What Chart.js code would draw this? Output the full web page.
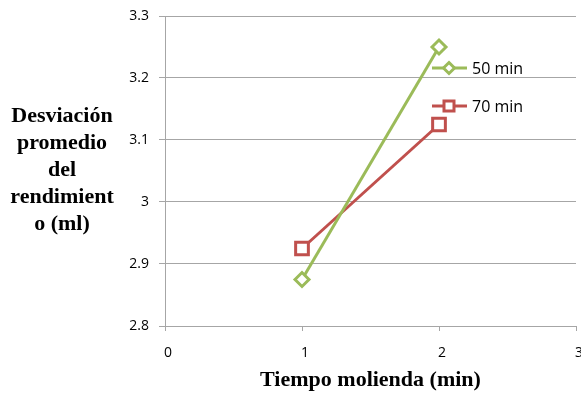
<!DOCTYPE html>
<html>
<head>
<meta charset="utf-8">
<script src="https://cdn.jsdelivr.net/npm/chart.js@4/dist/chart.umd.min.js"></script>
<style>
  html, body { margin: 0; padding: 0; background: #fff; }
  #wrap { width: 581px; height: 398px; position: relative; }
</style>
</head>
<body>
<div id="wrap"><canvas id="c" width="581" height="398"></canvas></div>
<script>
// Grinding time (min) on x, mean yield deviation (ml) on y
const tiempos = [1, 2];
const serie50 = [2.875, 3.25];
const serie70 = [2.925, 3.125];
const nombres = ['50 min', '70 min'];
const ticksX = [0, 1, 2, 3];
const ticksY = [2.8, 2.9, 3.0, 3.1, 3.2, 3.3];
const tituloX = 'Tiempo molienda (min)';
const tituloY = ['Desviación', 'promedio', 'del', 'rendimient', 'o (ml)'];

const VERDE = '#9BBB59';
const ROJO = '#C0504D';
const GRIS = '#A6A6A6';
const SANS = '"Open Sans", "Liberation Sans", sans-serif';

const pts = (ys) => tiempos.map((x, i) => ({ x: x, y: ys[i] }));

// Axis titles drawn horizontally beside/below the plot, plus an in-plot legend
const extras = {
  id: 'extras',
  afterDraw(chart) {
    const ctx = chart.ctx;
    const area = chart.chartArea;
    ctx.save();
    ctx.fillStyle = '#000';
    ctx.font = 'bold 22px "Liberation Serif", "Times New Roman", serif';
    ctx.textAlign = 'center';
    ctx.textBaseline = 'middle';
    ctx.fillText(tituloX, (area.left + area.right) / 2, 380);
    const lineH = 27;
    const y0 = 116;
    tituloY.forEach((t, i) => ctx.fillText(t, 62, y0 + i * lineH));

    // legend
    const items = [
      { label: nombres[0], color: VERDE, style: 'diamond', y: 68 },
      { label: nombres[1], color: ROJO, style: 'square', y: 106 }
    ];
    items.forEach(it => {
      ctx.strokeStyle = it.color;
      ctx.lineWidth = 3;
      ctx.beginPath();
      ctx.moveTo(432, it.y);
      ctx.lineTo(467, it.y);
      ctx.stroke();
      ctx.fillStyle = '#fff';
      ctx.beginPath();
      const cx = 449;
      if (it.style === 'diamond') {
        const r = 5.5;
        ctx.moveTo(cx, it.y - r);
        ctx.lineTo(cx + r, it.y);
        ctx.lineTo(cx, it.y + r);
        ctx.lineTo(cx - r, it.y);
        ctx.closePath();
      } else {
        const s = 5;
        ctx.rect(cx - s, it.y - s, 2 * s, 2 * s);
      }
      ctx.fill();
      ctx.stroke();
      ctx.fillStyle = '#000';
      ctx.font = '16px ' + SANS;
      ctx.textAlign = 'left';
      ctx.fillText(it.label, 472, it.y + 1);
    });
    ctx.restore();
  }
};

new Chart(document.getElementById('c'), {
  type: 'line',
  data: {
    datasets: [
      {
        label: nombres[0],
        data: pts(serie50),
        borderColor: VERDE,
        backgroundColor: '#fff',
        borderWidth: 3,
        pointStyle: 'rectRot',
        pointRadius: 7,
        pointBorderWidth: 3,
        pointBackgroundColor: '#fff',
        pointBorderColor: VERDE
      },
      {
        label: nombres[1],
        data: pts(serie70),
        borderColor: ROJO,
        backgroundColor: '#fff',
        borderWidth: 3,
        pointStyle: 'rect',
        pointRadius: 9,
        pointBorderWidth: 3,
        pointBackgroundColor: '#fff',
        pointBorderColor: ROJO
      }
    ]
  },
  options: {
    responsive: false,
    animation: false,
    layout: { autoPadding: false, padding: { top: 16, right: 5, left: 0, bottom: 0 } },
    plugins: { legend: { display: false }, tooltip: { enabled: false } },
    scales: {
      x: {
        type: 'linear',
        min: 0,
        max: 3,
        afterBuildTicks: (s) => { s.ticks = ticksX.map(v => ({ value: v })); },
        afterFit: (s) => { s.height = 72; s.paddingRight = 0; s.paddingLeft = 0; },
        border: { color: GRIS, width: 1 },
        grid: { drawOnChartArea: false, drawTicks: true, tickLength: 5, color: GRIS },
        ticks: {
          color: '#000',
          padding: 14,
          labelOffset: 3,
          font: { family: SANS, size: 14 },
          callback: (v) => String(v)
        }
      },
      y: {
        min: 2.8,
        max: 3.3,
        afterBuildTicks: (s) => { s.ticks = ticksY.map(v => ({ value: v })); },
        afterFit: (s) => { s.width = 165; s.paddingTop = 0; s.paddingBottom = 0; },
        border: { color: GRIS, width: 1 },
        grid: { color: GRIS, tickLength: 6, lineWidth: 1 },
        ticks: {
          color: '#000',
          padding: 10,
          font: { family: SANS, size: 14 },
          callback: (v) => {
            const r = Math.round(v * 10) / 10;
            return Number.isInteger(r) ? String(r) : r.toFixed(1);
          }
        }
      }
    }
  },
  plugins: [extras]
});
</script>
</body>
</html>
